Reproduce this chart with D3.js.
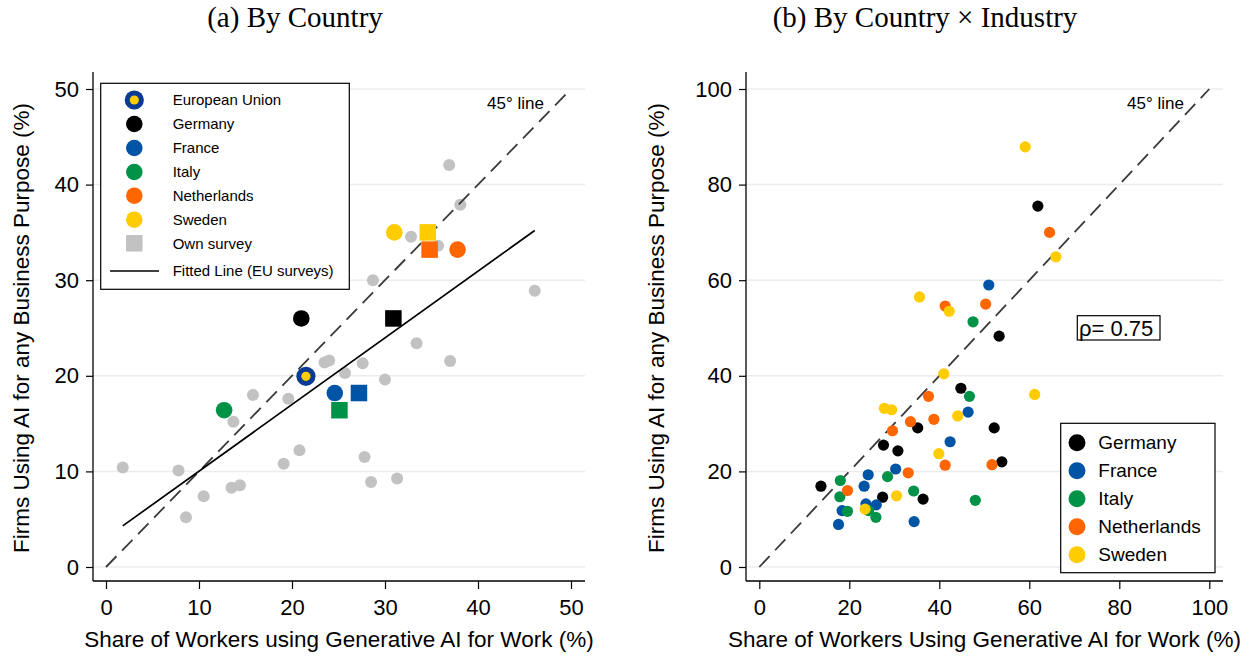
<!DOCTYPE html>
<html>
<head>
<meta charset="utf-8">
<script src="https://cdn.jsdelivr.net/npm/d3@7"></script>
<style>
  html, body { margin: 0; padding: 0; background: #fff; }
  svg { display: block; }
  text { font-family: "Liberation Sans", Arial, sans-serif; fill: #000; }
  .title { font-family: "Liberation Serif", "Times New Roman", serif; }
</style>
</head>
<body>
<svg id="chart" width="1251" height="657"></svg>
<script>
// ---------------- DATA ----------------
// Panel (a): EU survey by country (circles)
const euCountries = ["European Union", "Germany", "France", "Italy", "Netherlands", "Sweden"];
const euWorkers   = [21.5, 21.0, 24.6, 12.7, 37.8, 31.0];
const euFirms     = [19.95, 26.0, 18.2, 16.4, 33.2, 35.0];
// Panel (a): own survey (squares)
const ownCountries = ["Germany", "France", "Italy", "Netherlands", "Sweden"];
const ownWorkers   = [30.9, 27.2, 25.1, 34.8, 34.6];
const ownFirms     = [26.0, 18.2, 16.4, 33.2, 35.0];
// Panel (a): other EU countries (grey dots)
const otherWorkers = [36.9, 38.1, 32.8, 35.7, 28.7, 46.1, 33.4, 37.0, 23.5, 24.0, 27.6, 25.7, 30.0, 15.8, 19.6, 13.7, 20.8, 19.1, 27.8, 1.8, 7.8, 28.5, 31.3, 13.5, 14.4, 10.5, 8.6];
const otherFirms   = [42.05, 37.9, 34.55, 33.6, 30.0, 28.9, 23.4, 21.55, 21.4, 21.6, 21.3, 20.3, 19.6, 18.0, 17.6, 15.2, 12.2, 10.8, 11.5, 10.4, 10.1, 8.9, 9.25, 8.3, 8.55, 7.4, 5.2];
// Fitted line (EU surveys) endpoints
const fitWorkers = [1.8, 46.1];
const fitFirms   = [4.3, 35.2];
// 45 degree line
const diagA = [0, 50];
const diagB = [0, 100];
// Ticks
const ticksA = [0, 10, 20, 30, 40, 50];
const ticksB = [0, 20, 40, 60, 80, 100];

// Panel (b): country x industry
const industryCountries = ["Germany", "France", "Italy", "Netherlands", "Sweden"];
const deX = [61.9, 53.3, 44.8, 35.2, 52.2, 27.6, 30.8, 53.9, 13.7, 27.4, 36.4];
const deY = [75.5, 48.3, 37.4, 29.1, 29.1, 25.5, 24.3, 22.0, 16.9, 14.6, 14.2];
const frX = [51.0, 46.4, 42.4, 30.3, 24.2, 23.3, 23.7, 26.0, 18.4, 34.4, 17.6];
const frY = [59.0, 32.4, 26.2, 20.5, 19.3, 16.9, 13.2, 13.0, 11.8, 9.5, 8.9];
const itX = [47.5, 46.7, 28.5, 18.0, 34.3, 48.0, 17.9, 19.6, 24.3, 25.9];
const itY = [51.3, 35.7, 18.9, 18.1, 15.9, 13.95, 14.7, 11.65, 11.8, 10.4];
const nlX = [64.5, 41.3, 50.3, 37.6, 38.8, 33.6, 29.6, 51.7, 41.3, 33.1, 19.6];
const nlY = [70.0, 54.6, 55.0, 35.7, 30.9, 30.4, 28.5, 21.4, 21.3, 19.7, 16.0];
const seX = [59.1, 65.9, 35.6, 42.2, 41.0, 61.2, 27.8, 29.4, 44.1, 39.9, 30.5, 23.5];
const seY = [87.9, 64.9, 56.5, 53.5, 40.4, 36.1, 33.2, 32.9, 31.6, 23.7, 14.9, 12.1];
const rhoLabel = "ρ= 0.75";

// ---------------- STYLE ----------------
const colors = {
  "European Union": "#0A3A94",
  "Germany": "#000000",
  "France": "#0054A6",
  "Italy": "#009246",
  "Netherlands": "#FF6600",
  "Sweden": "#FFCC00"
};
const euInner = "#FFCC00";
const grey = "#C2C2C2";
const gridColor = "#ECECEC";
const diagColor = "#3a3a3a";

const svg = d3.select("#chart");

function panel(opt) {
  const g = svg.append("g");
  const x = d3.scaleLinear().domain(opt.xDomain).range(opt.xRange);
  const y = d3.scaleLinear().domain(opt.yDomain).range(opt.yRange);
  // gridlines
  g.append("g").selectAll("line").data(opt.ticks).join("line")
    .attr("x1", opt.axisX).attr("x2", opt.plotRight)
    .attr("y1", d => y(d)).attr("y2", d => y(d))
    .attr("stroke", gridColor).attr("stroke-width", 1.5);
  // y axis
  const ya = g.append("g").attr("transform", `translate(${opt.axisX},0)`)
    .call(d3.axisLeft(y).tickValues(opt.ticks).tickSize(7).tickPadding(7));
  ya.select(".domain").remove();
  ya.selectAll(".tick line").attr("stroke", "#000").attr("stroke-width", 1.2);
  ya.selectAll(".tick text").attr("font-size", 22).attr("font-family", "Liberation Sans, Arial, sans-serif").attr("fill", "#000");
  // x axis
  const xa = g.append("g").attr("transform", `translate(0,${opt.axisY})`)
    .call(d3.axisBottom(x).tickValues(opt.ticks).tickSize(8).tickPadding(10));
  xa.select(".domain").remove();
  xa.selectAll(".tick line").attr("stroke", "#000").attr("stroke-width", 1.2);
  xa.selectAll(".tick text").attr("font-size", 22).attr("font-family", "Liberation Sans, Arial, sans-serif").attr("fill", "#000");
  // axis lines
  g.append("line").attr("x1", opt.axisX).attr("x2", opt.axisX).attr("y1", opt.plotTop).attr("y2", opt.axisY)
    .attr("stroke", "#000").attr("stroke-width", 1.3);
  g.append("line").attr("x1", opt.axisX).attr("x2", opt.plotRight).attr("y1", opt.axisY).attr("y2", opt.axisY)
    .attr("stroke", "#000").attr("stroke-width", 1.3);
  // axis titles
  g.append("text").attr("x", (opt.axisX + opt.plotRight) / 2).attr("y", 647)
    .attr("text-anchor", "middle").attr("font-size", 22.5).text(opt.xTitle);
  g.append("text").attr("transform", `translate(${opt.yTitleX},${(opt.yRange[0] + opt.yRange[1]) / 2}) rotate(-90)`)
    .attr("text-anchor", "middle").attr("font-size", 22.5).text(opt.yTitle);
  // panel title
  svg.append("text").attr("class", "title").attr("x", opt.titleX).attr("y", 27)
    .attr("text-anchor", "middle").attr("font-size", 29).text(opt.title);
  return {g, x, y};
}

// ---------------- PANEL A ----------------
const A = panel({
  xDomain: [0, 50], xRange: [106, 571],
  yDomain: [0, 50], yRange: [567, 89],
  axisX: 93, axisY: 581, plotTop: 72, plotRight: 585,
  ticks: ticksA,
  xTitle: "Share of Workers using Generative AI for Work (%)",
  yTitle: "Firms Using AI for any Business Purpose (%)",
  yTitleX: 29, titleX: 295, title: "(a) By Country"
});

// grey dots
A.g.append("g").selectAll("circle").data(otherWorkers.map((v, i) => [v, otherFirms[i]])).join("circle")
  .attr("cx", d => A.x(d[0])).attr("cy", d => A.y(d[1])).attr("r", 6).attr("fill", grey);
// 45 degree line
A.g.append("line").attr("x1", A.x(diagA[0])).attr("y1", A.y(diagA[0])).attr("x2", A.x(diagA[1])).attr("y2", A.y(diagA[1]))
  .attr("stroke", diagColor).attr("stroke-width", 1.8).attr("stroke-dasharray", "15,8");
A.g.append("text").attr("x", 544).attr("y", 109).attr("text-anchor", "end").attr("font-size", 17).text("45° line");
// fitted line
A.g.append("line").attr("x1", A.x(fitWorkers[0])).attr("y1", A.y(fitFirms[0])).attr("x2", A.x(fitWorkers[1])).attr("y2", A.y(fitFirms[1]))
  .attr("stroke", "#000").attr("stroke-width", 1.7);
// own survey squares
const sq = 16.5;
A.g.append("g").selectAll("rect").data(ownCountries.map((c, i) => [c, ownWorkers[i], ownFirms[i]])).join("rect")
  .attr("x", d => A.x(d[1]) - sq / 2).attr("y", d => A.y(d[2]) - sq / 2)
  .attr("width", sq).attr("height", sq).attr("fill", d => colors[d[0]]);
// EU survey circles
const euData = euCountries.map((c, i) => [c, euWorkers[i], euFirms[i]]);
A.g.append("g").selectAll("circle").data(euData.filter(d => d[0] !== "European Union")).join("circle")
  .attr("cx", d => A.x(d[1])).attr("cy", d => A.y(d[2])).attr("r", 8.3).attr("fill", d => colors[d[0]]);
const euPt = euData.filter(d => d[0] === "European Union");
A.g.append("g").selectAll("circle").data(euPt).join("circle")
  .attr("cx", d => A.x(d[1])).attr("cy", d => A.y(d[2])).attr("r", 9.6).attr("fill", colors["European Union"]);
A.g.append("g").selectAll("circle").data(euPt).join("circle")
  .attr("cx", d => A.x(d[1])).attr("cy", d => A.y(d[2])).attr("r", 4.6).attr("fill", euInner);

// legend A
const legA = A.g.append("g");
legA.append("rect").attr("x", 100.7).attr("y", 83.3).attr("width", 248.6).attr("height", 206)
  .attr("fill", "#fff").attr("stroke", "#000").attr("stroke-width", 1.2);
const legAItems = euCountries.concat(["Own survey", "Fitted Line (EU surveys)"]);
const legAY = [100, 124, 148, 172, 195.7, 219.7, 243.3, 271];
legAItems.forEach((name, i) => {
  const yy = legAY[i];
  if (name === "European Union") {
    legA.append("circle").attr("cx", 134.3).attr("cy", yy).attr("r", 9.6).attr("fill", colors[name]);
    legA.append("circle").attr("cx", 134.3).attr("cy", yy).attr("r", 4.6).attr("fill", euInner);
  } else if (name === "Own survey") {
    legA.append("rect").attr("x", 134.3 - sq / 2).attr("y", yy - sq / 2).attr("width", sq).attr("height", sq).attr("fill", grey);
  } else if (name.startsWith("Fitted")) {
    legA.append("line").attr("x1", 110).attr("x2", 159).attr("y1", yy).attr("y2", yy).attr("stroke", "#000").attr("stroke-width", 1.7);
  } else {
    legA.append("circle").attr("cx", 134.3).attr("cy", yy).attr("r", 8.3).attr("fill", colors[name]);
  }
  legA.append("text").attr("x", 172.7).attr("y", yy).attr("dy", "0.35em").attr("font-size", 15).text(name);
});

// ---------------- PANEL B ----------------
const B = panel({
  xDomain: [0, 100], xRange: [759.3, 1209.3],
  yDomain: [0, 100], yRange: [567, 89],
  axisX: 746, axisY: 581, plotTop: 72, plotRight: 1223,
  ticks: ticksB,
  xTitle: "Share of Workers Using Generative AI for Work (%)",
  yTitle: "Firms Using AI for any Business Purpose (%)",
  yTitleX: 664, titleX: 925, title: "(b) By Country × Industry"
});
B.g.append("line").attr("x1", B.x(diagB[0])).attr("y1", B.y(diagB[0])).attr("x2", B.x(diagB[1])).attr("y2", B.y(diagB[1]))
  .attr("stroke", diagColor).attr("stroke-width", 1.8).attr("stroke-dasharray", "15,8");
B.g.append("text").attr("x", 1184).attr("y", 109).attr("text-anchor", "end").attr("font-size", 17).text("45° line");

const seriesB = [
  ["Germany", deX, deY], ["France", frX, frY], ["Italy", itX, itY],
  ["Netherlands", nlX, nlY], ["Sweden", seX, seY]
];
seriesB.forEach(([name, xs, ys]) => {
  B.g.append("g").selectAll("circle").data(xs.map((v, i) => [v, ys[i]])).join("circle")
    .attr("cx", d => B.x(d[0])).attr("cy", d => B.y(d[1])).attr("r", 5.6).attr("fill", colors[name]);
});

// rho box
B.g.append("rect").attr("x", 1077.3).attr("y", 315.7).attr("width", 82.7).attr("height", 24.3)
  .attr("fill", "#fff").attr("stroke", "#000").attr("stroke-width", 1.2);
B.g.append("text").attr("x", 1079).attr("y", 336).attr("font-size", 22).text(rhoLabel);

// legend B
const legB = B.g.append("g");
legB.append("rect").attr("x", 1060.7).attr("y", 423.3).attr("width", 154.3).attr("height", 149.4)
  .attr("fill", "#fff").attr("stroke", "#000").attr("stroke-width", 1.2);
industryCountries.forEach((name, i) => {
  const yy = 442.7 + i * 28;
  legB.append("circle").attr("cx", 1077).attr("cy", yy).attr("r", 8.5).attr("fill", colors[name]);
  legB.append("text").attr("x", 1098.3).attr("y", yy).attr("dy", "0.35em").attr("font-size", 19).text(name);
});
</script>
</body>
</html>
